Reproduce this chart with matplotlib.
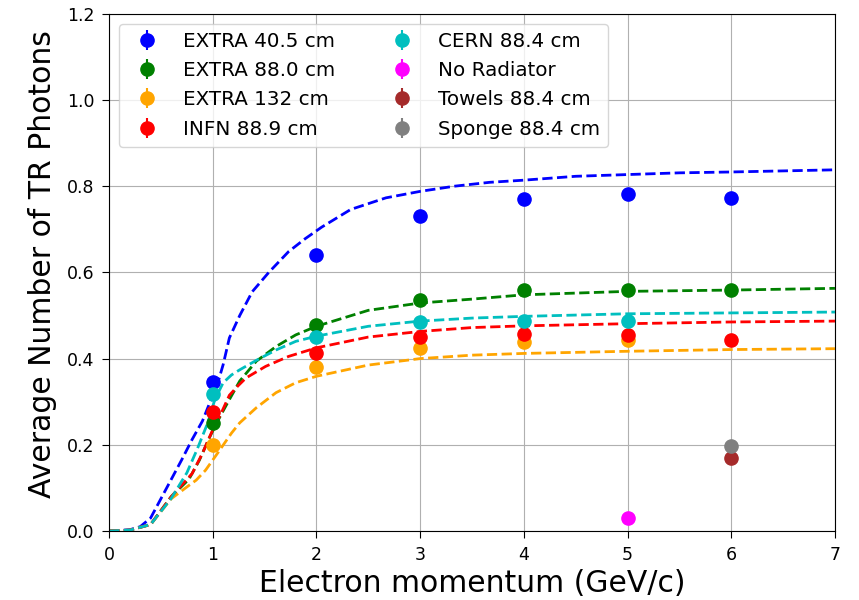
import matplotlib
matplotlib.use("Agg")
import matplotlib.pyplot as plt

# ---- data points ----
p_extra405 = [1, 2, 3, 4, 5, 6]
n_extra405 = [0.345, 0.641, 0.732, 0.771, 0.781, 0.773]
p_extra880 = [1, 2, 3, 4, 5, 6]
n_extra880 = [0.250, 0.477, 0.537, 0.560, 0.560, 0.560]
p_extra132 = [1, 2, 3, 4, 5]
n_extra132 = [0.200, 0.380, 0.424, 0.438, 0.442]
p_infn = [1, 2, 3, 4, 5, 6]
n_infn = [0.276, 0.413, 0.451, 0.457, 0.455, 0.444]
p_cern = [1, 2, 3, 4, 5]
n_cern = [0.318, 0.451, 0.485, 0.487, 0.487]
p_norad = [5]
n_norad = [0.030]
p_towels = [6]
n_towels = [0.170]
p_sponge = [6]
n_sponge = [0.197]

# ---- fitted curves ----
cx_blue = [0, 0.2, 0.3, 0.4, 0.5, 0.6, 0.7, 0.8, 0.9, 1.0, 1.05, 1.10, 1.16, 1.26, 1.38, 1.54,
           1.73, 1.89, 2.05, 2.33, 2.67, 3.0, 3.33, 3.67, 4.0, 4.5, 5.0, 5.5, 6.0, 7.0]
cy_blue = [0, 0.003, 0.01, 0.03, 0.075, 0.12, 0.165, 0.212, 0.255, 0.315, 0.345, 0.386, 0.448,
           0.50, 0.555, 0.60, 0.648, 0.678, 0.705, 0.746, 0.773, 0.788, 0.80, 0.809, 0.814,
           0.823, 0.827, 0.831, 0.833, 0.838]
cx_cyan = [0, 0.2, 0.4, 0.6, 0.75, 0.85, 0.95, 1.02, 1.10, 1.18, 1.26, 1.42, 1.61, 1.80, 2.0,
           2.5, 3.0, 3.5, 4.0, 5.0, 6.0, 7.0]
cy_cyan = [0, 0.002, 0.015, 0.076, 0.135, 0.19, 0.25, 0.305, 0.344, 0.362, 0.374, 0.396, 0.42,
           0.44, 0.452, 0.475, 0.487, 0.494, 0.498, 0.504, 0.506, 0.508]
cx_green = [0, 0.2, 0.4, 0.6, 0.77, 0.87, 0.97, 1.02, 1.08, 1.16, 1.26, 1.42, 1.61, 1.80, 2.0,
            2.5, 3.0, 3.5, 4.0, 5.0, 6.0, 7.0]
cy_green = [0, 0.002, 0.015, 0.08, 0.12, 0.164, 0.218, 0.242, 0.270, 0.305, 0.348, 0.394,
            0.428, 0.455, 0.475, 0.512, 0.529, 0.538, 0.548, 0.556, 0.559, 0.563]
cx_red = [0, 0.2, 0.4, 0.6, 0.8, 0.9, 1.0, 1.08, 1.16, 1.24, 1.32, 1.51, 1.73, 2.0,
          2.5, 3.0, 3.5, 4.0, 5.0, 6.0, 7.0]
cy_red = [0, 0.002, 0.015, 0.08, 0.133, 0.18, 0.235, 0.273, 0.315, 0.336, 0.355, 0.382, 0.405,
          0.425, 0.45, 0.463, 0.472, 0.476, 0.481, 0.485, 0.487]
cx_orange = [0, 0.2, 0.4, 0.6, 0.76, 0.84, 0.93, 1.03, 1.18, 1.26, 1.42, 1.61, 1.80, 2.0,
             2.5, 3.0, 3.5, 4.0, 5.0, 6.0, 7.0]
cy_orange = [0, 0.002, 0.015, 0.075, 0.104, 0.118, 0.141, 0.175, 0.227, 0.251, 0.286, 0.321,
             0.344, 0.359, 0.385, 0.40, 0.408, 0.412, 0.417, 0.421, 0.423]

fig = plt.figure(figsize=(8.59, 6.0), dpi=100)
ax = fig.add_axes([0.127, 0.115, 0.845, 0.862])

ax.plot(cx_blue, cy_blue, '--', color='blue', lw=2)
ax.plot(cx_green, cy_green, '--', color='green', lw=2)
ax.plot(cx_orange, cy_orange, '--', color='orange', lw=2)
ax.plot(cx_red, cy_red, '--', color='red', lw=2)
ax.plot(cx_cyan, cy_cyan, '--', color='c', lw=2)

series = [
    (p_extra405, n_extra405, 'blue', 'EXTRA 40.5 cm'),
    (p_extra880, n_extra880, 'green', 'EXTRA 88.0 cm'),
    (p_extra132, n_extra132, 'orange', 'EXTRA 132 cm'),
    (p_infn, n_infn, 'red', 'INFN 88.9 cm'),
    (p_cern, n_cern, 'c', 'CERN 88.4 cm'),
    (p_norad, n_norad, 'magenta', 'No Radiator'),
    (p_towels, n_towels, 'brown', 'Towels 88.4 cm'),
    (p_sponge, n_sponge, 'gray', 'Sponge 88.4 cm'),
]
for px, ny, col, lab in series:
    ax.errorbar(px, ny, yerr=[0.004] * len(px), fmt='o', color=col, ms=9.5, label=lab)

ax.set_xlim(0, 7)
ax.set_ylim(0, 1.2)
ax.grid(True)
ax.tick_params(labelsize=12.5, length=5, pad=5.5)
ax.set_xlabel('Electron momentum (GeV/c)', fontsize=21.5)
ax.set_ylabel('Average Number of TR Photons', fontsize=21.5)
ax.yaxis.set_label_coords(-0.072, 0.516)
ax.legend(ncol=2, loc='upper left', fontsize=14.3, columnspacing=2.4, labelspacing=0.52)

fig.savefig('out.png', dpi=100)
